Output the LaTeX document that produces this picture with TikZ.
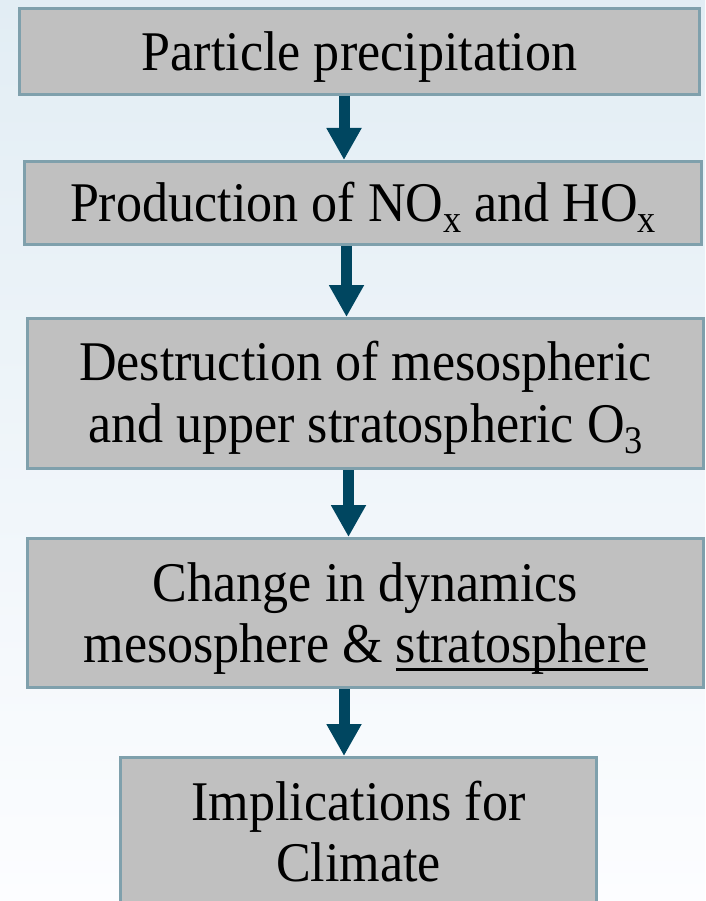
\documentclass[tikz,border=0pt]{standalone}
\usepackage{fontspec}
\setmainfont{Liberation Serif}[FakeStretch=0.93]
\usetikzlibrary{arrows.meta}
\definecolor{bgtop}{HTML}{E2EDF4}
\definecolor{bgbot}{HTML}{FCFDFF}
\definecolor{boxfill}{HTML}{C0C0C0}
\definecolor{boxline}{HTML}{7FA0AC}
\definecolor{arrcol}{HTML}{004660}
\newcommand{\myul}[1]{{\setbox0\hbox{#1}\rlap{\rule[-8pt]{\wd0}{2.5pt}}\box0}}
\newcommand{\mysub}[1]{\raisebox{-11pt}{\fontsize{39}{40}\selectfont #1}}
\newcommand{\mystrut}[1]{\rule{0pt}{#1}}
\begin{document}
\begin{tikzpicture}[x=1pt,y=-1pt,
  flowbox/.style={draw=boxline, line width=3pt, fill=boxfill, align=center,
    inner sep=0pt, font=\fontsize{56}{61.5}\selectfont},
  arr/.style={draw=arrcol, line width=11pt,
    -{Triangle[width=33pt,length=32pt]}}]
\useasboundingbox (0,0) rectangle (705,901);
\shade[top color=bgtop, bottom color=bgbot] (0,0) rectangle (705,901);
\begin{scope}
\clip (0,0) rectangle (705,901);
\node[flowbox, minimum width=680pt, minimum height=86pt] (b1) at (359.5,51.5)
  {\mystrut{50.6pt}Particle precipitation};
\node[flowbox, minimum width=677pt, minimum height=83pt] (b2) at (363,203)
  {\mystrut{48.4pt}Production of NO\mysub{x} and HO\mysub{x}};
\node[flowbox, minimum width=676pt, minimum height=150pt] (b3) at (365.5,393.5)
  {\mystrut{48.1pt}Destruction of mesospheric\\and upper stratospheric O\mysub{3}};
\node[flowbox, minimum width=676pt, minimum height=149pt] (b4) at (365.5,613)
  {\mystrut{49.7pt}Change in dynamics\\mesosphere \& \myul{stratosphere}};
\node[flowbox, minimum width=476pt, minimum height=148.3pt] (b5) at (358.5,831.65)
  {Implications for\\Climate};
\end{scope}
\coordinate (c1) at (344,0);
\coordinate (c2) at (346.5,0);
\coordinate (c3) at (348.5,0);
\coordinate (c4) at (344,0);
\draw[arr] (b1.south -| c1) -- (b2.north -| c1);
\draw[arr] (b2.south -| c2) -- (b3.north -| c2);
\draw[arr] (b3.south -| c3) -- (b4.north -| c3);
\draw[arr] (b4.south -| c4) -- (b5.north -| c4);
\end{tikzpicture}
\end{document}
